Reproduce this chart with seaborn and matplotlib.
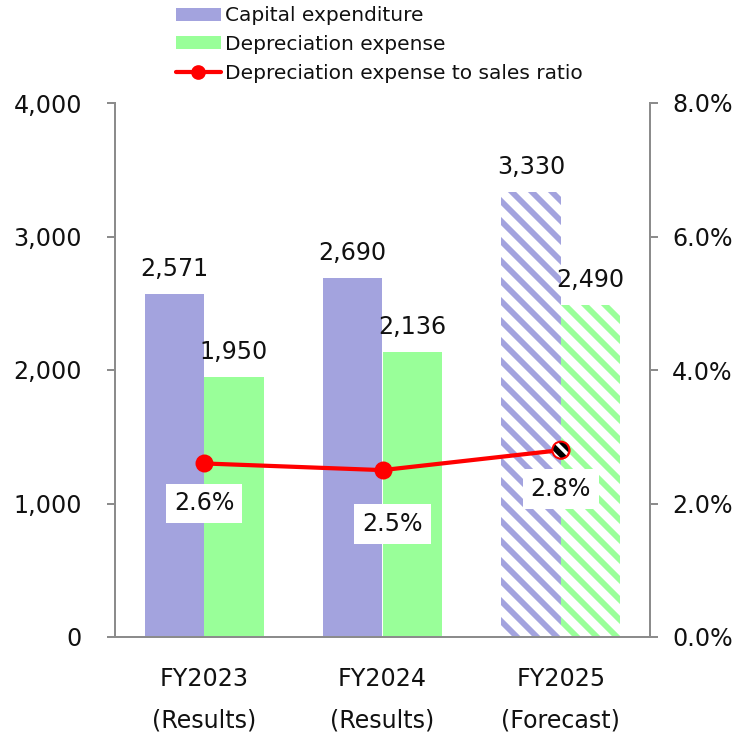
import matplotlib
matplotlib.use("Agg")
import matplotlib.pyplot as plt
from matplotlib.lines import Line2D
from matplotlib.patches import Patch
import numpy as np
import pandas as pd
import seaborn as sns

# ---- data ----
years = ["FY2023\n(Results)", "FY2024\n(Results)", "FY2025\n(Forecast)"]
capex = [2571, 2690, 3330]
depreciation = [1950, 2136, 2490]
dep_ratio = [2.6, 2.5, 2.8]
forecast = [False, False, True]
series_names = ["Capital expenditure", "Depreciation expense"]
ratio_name = "Depreciation expense to sales ratio"

CAPEX_COLOR = "#A3A3DE"
DEP_COLOR = "#99FF99"
LINE_COLOR = "#FF0000"
AXIS_GRAY = "#8C8C8C"
TEXT = "#111111"

DPI = 120
W, H = 736, 732


def pt(px):
    """Convert a pixel length to points at the output resolution."""
    return px * 72.0 / DPI


sns.set_theme(style="white")
plt.rcParams["font.family"] = ["DejaVu Sans"]
plt.rcParams["hatch.linewidth"] = pt(5.8)
FS = pt(23.8)
LEG_FS = pt(20.2)

df = pd.DataFrame({
    "year": years * 2,
    "series": [series_names[0]] * 3 + [series_names[1]] * 3,
    "value": capex + depreciation,
})

fig = plt.figure(figsize=(W / DPI, H / DPI), dpi=DPI)
ax = fig.add_axes([115 / W, 1 - 637 / H, 535 / W, 534 / H])

sns.barplot(data=df, x="year", y="value", hue="series", order=years,
            hue_order=series_names, palette=[CAPEX_COLOR, DEP_COLOR],
            width=2 / 3, gap=0, saturation=1, linewidth=0, ax=ax, legend=False)

# forecast bars drawn as diagonal stripes on white
for container, color in zip(ax.containers, [CAPEX_COLOR, DEP_COLOR]):
    for bar, is_fc in zip(container, forecast):
        if is_fc:
            bar.set_facecolor("white")
            bar.set_edgecolor(color)
            bar.set_hatch("\\\\")
            bar.set_linewidth(0)
    ax.bar_label(container, labels=[f"{v:,.0f}" for v in container.datavalues],
                 padding=pt(13), fontsize=FS, color=TEXT)

ax.set_ylim(0, 4000)
ax.set_xlim(-0.5, 2.5)
ax.set_yticks(np.arange(0, 4001, 1000))
ax.set_yticklabels([f"{v:,}" for v in range(0, 4001, 1000)], fontsize=FS)
ax.set_xticks([-0.5, 0.5, 1.5, 2.5])
ax.set_xticklabels([])
ax.set_xticks([0, 1, 2], minor=True)
ax.set_xticklabels(years, minor=True, fontsize=FS, linespacing=1.9, color=TEXT)
ax.tick_params(axis="x", which="minor", length=0, pad=pt(30))
ax.tick_params(axis="x", which="major", length=pt(8), width=pt(2), color=AXIS_GRAY,
               direction="out")
ax.tick_params(axis="y", length=pt(8), width=pt(2), color=AXIS_GRAY, direction="out",
               pad=pt(25), labelcolor=TEXT)
ax.set_xlabel("")
ax.set_ylabel("")
for side in ["left", "bottom", "right"]:
    ax.spines[side].set_color(AXIS_GRAY)
    ax.spines[side].set_linewidth(pt(2))
ax.spines["top"].set_visible(False)

# ratio line on the secondary axis
ax2 = ax.twinx()
xpos = np.arange(len(years))
sns.lineplot(x=xpos, y=dep_ratio, ax=ax2, color=LINE_COLOR, linewidth=pt(4.2),
             marker="o", markersize=pt(18), markeredgewidth=0, legend=False)
fc_idx = [i for i, f in enumerate(forecast) if f]
fx = xpos[fc_idx]
fy = np.array(dep_ratio)[fc_idx]
ax2.scatter(fx, fy, s=pt(17) ** 2, facecolor="white", edgecolor="black", hatch="\\\\\\",
            linewidth=0, zorder=5)
ax2.scatter(fx, fy, s=pt(17) ** 2, facecolor="none", edgecolor=LINE_COLOR,
            linewidth=pt(2), zorder=6)

label_shift = [(0, 40), (10, 54), (0, 39)]
for x, y, (dx, dy) in zip(xpos, dep_ratio, label_shift):
    ax2.annotate(f"{y:.1f}%", (x, y), xytext=(pt(dx), -pt(dy)), textcoords="offset points",
                 ha="center", va="center", fontsize=FS, color=TEXT,
                 bbox=dict(boxstyle="square,pad=0.33", fc="white", ec="none"), zorder=7)

ax2.set_ylim(0, 8)
ax2.set_yticks(np.arange(0, 8.1, 2))
ax2.set_yticklabels([f"{v:.1f}%" for v in np.arange(0, 8.1, 2)], fontsize=FS)
ax2.tick_params(axis="y", length=pt(8), width=pt(2), color=AXIS_GRAY, direction="out",
                pad=pt(14), labelcolor=TEXT)
ax2.spines["top"].set_visible(False)
ax2.spines["right"].set_color(AXIS_GRAY)
ax2.spines["right"].set_linewidth(pt(2))
ax2.spines["left"].set_visible(False)
ax2.spines["bottom"].set_visible(False)
ax2.set_ylabel("")

handles = [
    Patch(facecolor=CAPEX_COLOR, edgecolor="none"),
    Patch(facecolor=DEP_COLOR, edgecolor="none"),
    Line2D([0], [0], color=LINE_COLOR, linewidth=pt(4.2), marker="o", markersize=pt(13)),
]
fig.legend(handles, series_names + [ratio_name], loc="upper left",
           bbox_to_anchor=(164 / W, 1.008), frameon=False, fontsize=LEG_FS,
           handlelength=2.2, handleheight=0.6, labelspacing=0.48, handletextpad=0.2,
           borderpad=0.1, labelcolor=TEXT)

fig.savefig("out.png", dpi=DPI, facecolor="white")
